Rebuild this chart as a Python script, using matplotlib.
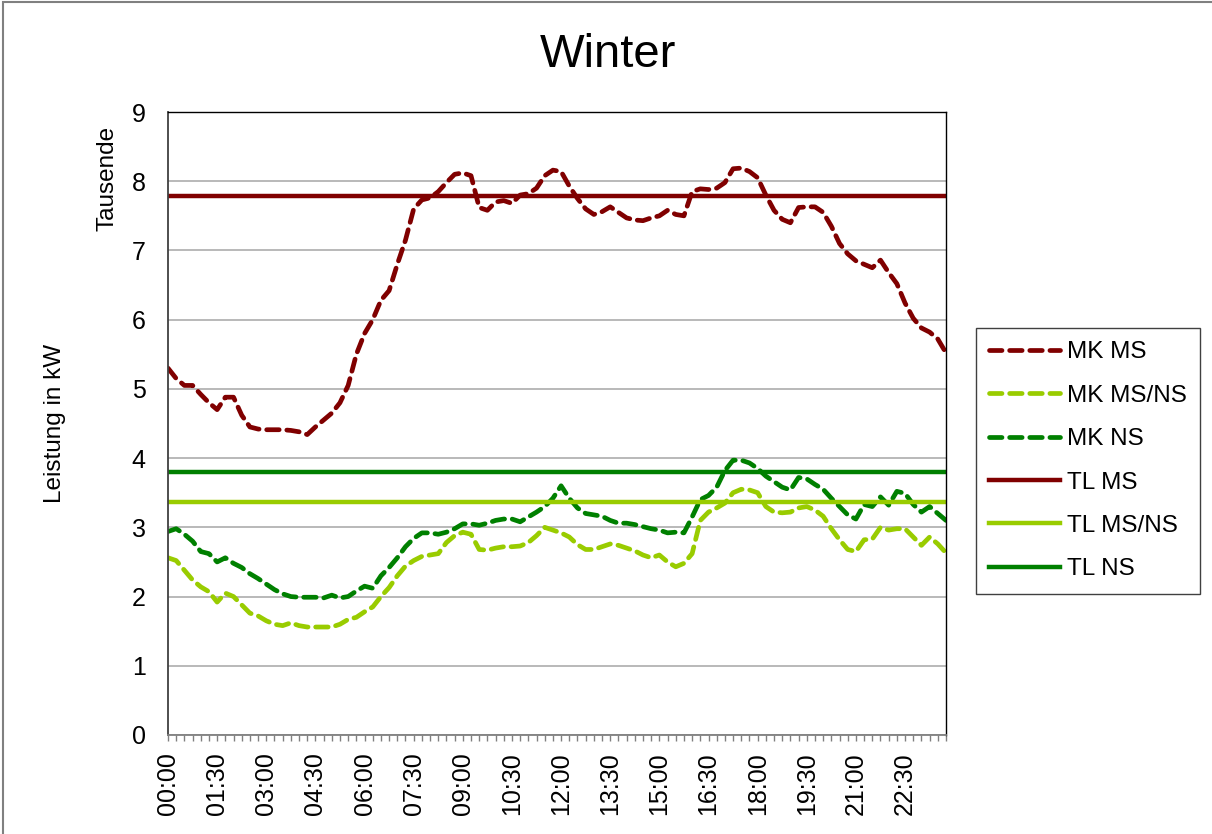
import matplotlib
matplotlib.use("Agg")
import matplotlib.pyplot as plt
from matplotlib.patches import Rectangle
from matplotlib.ticker import FixedLocator, MultipleLocator

plt.rcParams['font.family'] = ['Liberation Sans', 'DejaVu Sans']
plt.rcParams['lines.scale_dashes'] = False

# 15-Minuten-Werte (Tausende kW), 00:00 .. 23:45
zeiten = [f"{h:02d}:{m:02d}" for h in range(24) for m in (0, 15, 30, 45)]

mk_ms = [5.30, 5.15, 5.05, 5.05, 4.92, 4.80, 4.70, 4.88, 4.88, 4.62,
         4.45, 4.42, 4.41, 4.41, 4.41, 4.40, 4.38, 4.34, 4.45, 4.55,
         4.65, 4.80, 5.05, 5.50, 5.80, 6.00, 6.28, 6.42, 6.80, 7.15,
         7.60, 7.73, 7.76, 7.85, 7.98, 8.10, 8.12, 8.08, 7.62, 7.58,
         7.70, 7.72, 7.68, 7.80, 7.82, 7.90, 8.08, 8.16, 8.14, 7.93,
         7.75, 7.60, 7.52, 7.56, 7.63, 7.55, 7.47, 7.44, 7.43, 7.47,
         7.50, 7.58, 7.52, 7.50, 7.85, 7.89, 7.88, 7.90, 7.98, 8.18,
         8.19, 8.14, 8.05, 7.80, 7.58, 7.45, 7.40, 7.62, 7.63, 7.63,
         7.55, 7.35, 7.10, 6.95, 6.85, 6.80, 6.75, 6.86, 6.68, 6.52,
         6.24, 6.02, 5.88, 5.82, 5.72, 5.52]

mk_ms_ns = [2.56, 2.52, 2.38, 2.24, 2.14, 2.07, 1.92, 2.05, 2.00, 1.88,
            1.76, 1.72, 1.65, 1.60, 1.58, 1.62, 1.58, 1.56, 1.56, 1.56,
            1.56, 1.60, 1.67, 1.70, 1.78, 1.85, 2.00, 2.13, 2.30, 2.44,
            2.52, 2.58, 2.60, 2.62, 2.78, 2.88, 2.93, 2.90, 2.68, 2.67,
            2.70, 2.72, 2.72, 2.73, 2.78, 2.88, 3.00, 2.96, 2.92, 2.86,
            2.75, 2.68, 2.68, 2.72, 2.76, 2.74, 2.70, 2.66, 2.60, 2.56,
            2.60, 2.50, 2.43, 2.48, 2.62, 3.10, 3.22, 3.28, 3.35, 3.50,
            3.55, 3.54, 3.50, 3.30, 3.22, 3.21, 3.22, 3.28, 3.30, 3.25,
            3.16, 2.98, 2.82, 2.68, 2.65, 2.82, 2.83, 3.00, 2.96, 2.98,
            2.98, 2.86, 2.74, 2.86, 2.76, 2.63]

mk_ns = [2.94, 2.98, 2.90, 2.80, 2.65, 2.62, 2.50, 2.56, 2.48, 2.42,
         2.33, 2.26, 2.18, 2.10, 2.04, 2.00, 1.99, 1.99, 1.99, 1.98,
         2.02, 1.98, 2.00, 2.08, 2.15, 2.12, 2.30, 2.42, 2.56, 2.72,
         2.84, 2.92, 2.92, 2.90, 2.93, 2.98, 3.05, 3.05, 3.03, 3.06,
         3.10, 3.12, 3.12, 3.08, 3.15, 3.22, 3.30, 3.42, 3.60, 3.42,
         3.28, 3.20, 3.18, 3.16, 3.10, 3.06, 3.06, 3.04, 3.01, 2.98,
         2.96, 2.92, 2.93, 2.92, 3.15, 3.40, 3.46, 3.58, 3.82, 3.97,
         3.97, 3.93, 3.85, 3.74, 3.66, 3.58, 3.54, 3.72, 3.70, 3.62,
         3.55, 3.42, 3.30, 3.18, 3.12, 3.33, 3.30, 3.44, 3.32, 3.52,
         3.49, 3.33, 3.22, 3.30, 3.20, 3.10]

tl_ms = 7.78
tl_ms_ns = 3.37
tl_ns = 3.80

DUNKELROT = '#800000'
HELLGRUEN = '#99CC00'
GRUEN = '#008000'

fig = plt.figure(figsize=(12.12, 8.34), dpi=100)
ax = fig.add_axes([168/1212, 1 - 735/834, (946 - 168)/1212, (735 - 112)/834])

x = list(range(len(zeiten)))
dash = (0, (9.0, 5.5))

ax.plot(x, mk_ms, color=DUNKELROT, lw=3.4, ls=dash, dash_capstyle='round', label='MK MS')
ax.plot(x, mk_ms_ns, color=HELLGRUEN, lw=3.4, ls=dash, dash_capstyle='round', label='MK MS/NS')
ax.plot(x, mk_ns, color=GRUEN, lw=3.4, ls=dash, dash_capstyle='round', label='MK NS')
ax.plot(x, [tl_ms] * len(x), color=DUNKELROT, lw=3.2, label='TL MS')
ax.plot(x, [tl_ms_ns] * len(x), color=HELLGRUEN, lw=3.2, label='TL MS/NS')
ax.plot(x, [tl_ns] * len(x), color=GRUEN, lw=3.2, label='TL NS')

ax.set_xlim(0, len(x) - 1)
ax.set_ylim(0, 9)
ax.yaxis.set_major_locator(MultipleLocator(1))
ax.grid(axis='y', color='#a6a6a6', lw=1.1)
ax.set_axisbelow(True)

major = list(range(0, len(x), 6))
ax.xaxis.set_major_locator(FixedLocator(major))
ax.set_xticklabels([zeiten[i] for i in major], rotation=90)
ax.xaxis.set_minor_locator(FixedLocator(x))
ax.tick_params(axis='x', which='both', direction='out', length=4.5, width=1,
               color='#808080', pad=8, labelsize=18)
ax.tick_params(axis='y', length=0, pad=16, labelsize=18)

for s in ('top', 'right'):
    ax.spines[s].set_color('black')
    ax.spines[s].set_linewidth(1)
ax.spines['left'].set_color('#404040')
ax.spines['left'].set_linewidth(1.3)
ax.spines['bottom'].set_color('#808080')
ax.spines['bottom'].set_linewidth(1.3)

fig.text(608/1212, 1 - 55/834, 'Winter', ha='center', va='center', fontsize=34)
fig.text(108/1212, 1 - 178/834, 'Tausende', rotation=90, ha='center', va='center', fontsize=17.5)
fig.text(55/1212, 1 - 423/834, 'Leistung in kW', rotation=90, ha='center', va='center', fontsize=17.5)

leg = fig.legend(loc='upper left', bbox_to_anchor=(976/1212, 1 - 328/834),
                 bbox_transform=fig.transFigure, fontsize=17.5, frameon=True,
                 fancybox=False, framealpha=1, edgecolor='#404040',
                 handlelength=2.9, handletextpad=0.3, labelspacing=0.88,
                 borderpad=0.55, borderaxespad=0)
leg.get_frame().set_linewidth(1)

fig.patches.append(Rectangle((3/1212, -0.1), 1.1, 1.1 - 2.5/834, transform=fig.transFigure,
                             fill=False, edgecolor='#808080', lw=1.5))

fig.savefig('out.png', dpi=100)
